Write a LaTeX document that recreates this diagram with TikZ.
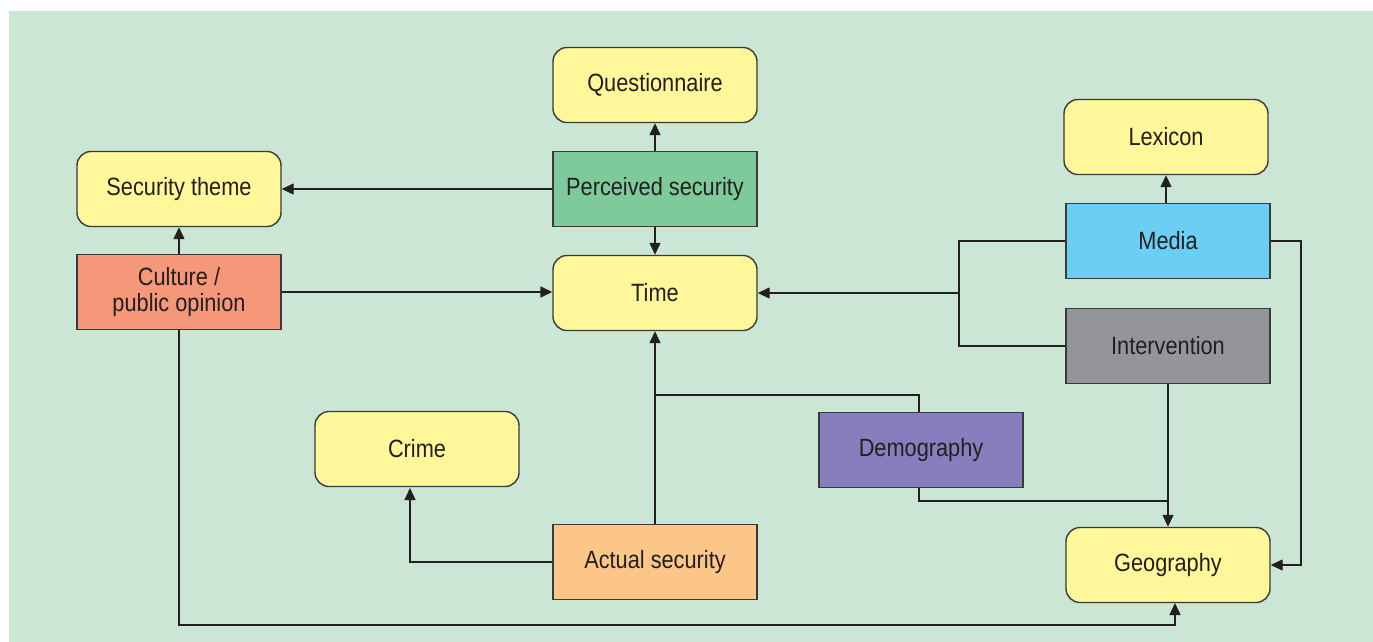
\documentclass[tikz,border=0pt]{standalone}
\usepackage{fontspec}
\setmainfont{Liberation Sans}[FakeStretch=0.87]
\usetikzlibrary{arrows.meta}
\definecolor{bg}{HTML}{CCE6D6}
\definecolor{ink}{HTML}{231F20}
\definecolor{edge}{HTML}{3A3A3A}
\definecolor{pale}{HTML}{FFF799}
\definecolor{greenbox}{HTML}{7FCA9A}
\definecolor{salmon}{HTML}{F59779}
\definecolor{skyblue}{HTML}{6BCEF5}
\definecolor{greybox}{HTML}{939598}
\definecolor{violet}{HTML}{877FBD}
\definecolor{apricot}{HTML}{FDC689}
\tikzset{
  box/.style={draw=edge, line width=1.4pt, minimum width=204pt, minimum height=75pt,
    inner sep=2pt, text=ink, align=center, font=\fontsize{25}{25.5}\selectfont},
  roundbox/.style={box, fill=pale, rounded corners=14pt},
  link/.style={draw=ink, line width=1.4pt},
  arr/.style={link, -{Triangle[length=12pt,width=11pt]}}
}
\begin{document}
\begin{tikzpicture}[x=1pt,y=-1pt]
\useasboundingbox (0,0) rectangle (1373,642);
\fill[bg] (9,11) rectangle (1373,642);

% boxes
\node[roundbox] (Q)  at (655,85)  {Questionnaire};
\node[box, fill=greenbox] (PS) at (655,189) {Perceived security};
\node[roundbox] (T)  at (655,293) {Time};
\node[roundbox] (ST) at (179,189) {Security theme};
\node[box, fill=salmon] (C) at (179,292) {Culture /\\public opinion};
\node[roundbox] (L)  at (1166,137) {Lexicon};
\node[box, fill=skyblue] (M) at (1168,241) {Media};
\node[box, fill=greybox] (I) at (1168,346) {Intervention};
\node[box, fill=violet] (D) at (921,450) {Demography};
\node[roundbox] (Cr) at (417,449) {Crime};
\node[box, fill=apricot] (AS) at (655,562) {Actual security};
\node[roundbox] (G)  at (1168,565) {Geography};

% junction points
\coordinate (J)   at (959,293);
\coordinate (MR)  at (1301,241);
\coordinate (DB)  at (1168,501);
\coordinate (DT)  at (655,395);
\coordinate (CrIn) at (410,488);
\coordinate (GIn)  at (1175,603);
\coordinate (Bot)  at (179,625);

% connectors
\draw[arr] (PS) -- (Q);
\draw[arr] (PS) -- (ST);
\draw[arr] (PS) -- (T);
\draw[arr] (C) -- (ST);
\draw[arr] (C.east) -- (C.east -| T.west);
\draw[arr] (L.south |- M.north) -- (L.south);
\draw[link] (M.west) -| (J);
\draw[link] (I.west) -| (J);
\draw[arr] (J) -- (J -| T.east);
\draw[arr] (M.east) -- (MR) |- (G.east);
\draw[arr] (I.south) -- (G.north);
\draw[link] (D.south -| 919,0) |- (DB);
\draw[link] (D.north -| 919,0) |- (DT);
\draw[arr] (AS) -- (T);
\draw[arr] (AS.west) -| (CrIn);
\draw[arr] (C.south) -- (Bot) -| (GIn);
\end{tikzpicture}
\end{document}
